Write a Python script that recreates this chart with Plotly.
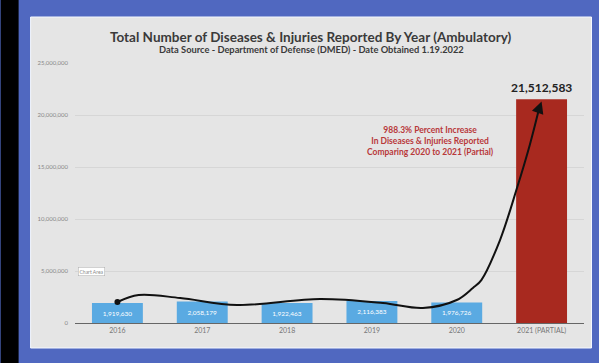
import plotly.graph_objects as go

years = ["2016", "2017", "2018", "2019", "2020", "2021 (PARTIAL)"]
counts = [1919630, 2058179, 1922463, 2116383, 1976726, 21512583]
count_labels = ["1,919,630", "2,058,179", "1,922,463", "2,116,383", "1,976,726", ""]
bar_colors = ["#5aaae2"] * 5 + ["#a8291f"]

# hand-drawn trend curve (category position, value)
curve_x = [0.0, 0.25, 0.74, 1.41, 2.39, 3.13, 3.6, 4.0, 4.19, 4.29, 4.51, 4.71, 4.86, 4.97]
curve_y = [2.02e6, 2.69e6, 2.40e6, 1.73e6, 2.31e6, 1.92e6, 1.44e6, 2.21e6, 3.37e6, 4.13e6,
           7.98e6, 12.98e6, 17.1e6, 20.6e6]

y_ticks = [0, 5000000, 10000000, 15000000, 20000000, 25000000]
y_tick_text = ["0", "5,000,000", "10,000,000", "15,000,000", "20,000,000", "25,000,000"]

FONT = "Lato"
xpos = list(range(len(years)))

fig = go.Figure()
fig.add_trace(go.Bar(
    x=xpos, y=counts, marker=dict(color=bar_colors, line=dict(width=0)),
    text=count_labels, textposition="inside", insidetextanchor="middle",
    textfont=dict(size=6.5, color="white", family=FONT),
    width=0.6, hoverinfo="skip", showlegend=False,
))
fig.add_trace(go.Scatter(
    x=curve_x, y=curve_y, mode="lines", line=dict(color="#111111", width=2, shape="spline", smoothing=1.0),
    hoverinfo="skip", showlegend=False,
))
fig.add_trace(go.Scatter(
    x=curve_x[:1], y=curve_y[:1], mode="markers", marker=dict(color="#111111", size=6),
    hoverinfo="skip", showlegend=False,
))

annotations = [
    dict(x=5, y=21.3e6, ax=curve_x[-1], ay=curve_y[-1], xref="x", yref="y", axref="x", ayref="y",
         text="", showarrow=True, arrowhead=2, arrowsize=1.2, arrowwidth=2, arrowcolor="#111111"),
    dict(x=5, y=counts[5], xref="x", yref="y", text="<b>21,512,583</b>", showarrow=False,
         yanchor="bottom", yshift=2, font=dict(size=12, color="#222222", family=FONT)),
    dict(x=3.69, y=17.5e6, xref="x", yref="y", showarrow=False,
         text="<b>988.3% Percent Increase<br>In Diseases &amp; Injuries Reported<br>Comparing 2020 to 2021 (Partial)</b>",
         align="center", font=dict(size=8.5, color="#b8383a", family=FONT)),
    dict(x=-0.3, y=5e6, xref="x", yref="y", showarrow=False, text="Chart Area",
         font=dict(size=5, color="#888888", family=FONT), bgcolor="white",
         bordercolor="#aaaaaa", borderwidth=0.5, borderpad=1),
    dict(x=(311 - 74.5) / 510, y=(323 - 37) / 260, xref="paper", yref="paper", showarrow=False,
         text="<b>Total Number of Diseases &amp; Injuries Reported By Year (Ambulatory)</b>",
         xanchor="center", yanchor="middle", font=dict(size=13.5, color="#3a3a3a", family=FONT)),
    dict(x=(311 - 74.5) / 510, y=(323 - 50) / 260, xref="paper", yref="paper", showarrow=False,
         text="<b>Data Source - Department of Defense (DMED) - Date Obtained 1.19.2022</b>",
         xanchor="center", yanchor="middle", font=dict(size=9.3, color="#3a3a3a", family=FONT)),
]

fig.update_layout(
    width=599, height=363,
    margin=dict(l=74.5, r=14.5, t=63, b=40),
    paper_bgcolor="#5068c0", plot_bgcolor="rgba(0,0,0,0)",
    bargap=0.4,
    xaxis=dict(range=[-0.5, 5.5], tickvals=xpos, ticktext=years, showgrid=False, zeroline=False,
               showline=True, linecolor="#666666", linewidth=1.2, ticks="",
               tickfont=dict(size=7, color="#777777", family=FONT), fixedrange=True),
    yaxis=dict(range=[0, 25000000], tickvals=y_ticks, ticktext=y_tick_text, showgrid=True,
               gridcolor="#d6d6d6", gridwidth=0.8, zeroline=False, ticks="", ticklabelstandoff=6,
               tickfont=dict(size=6, color="#888888", family=FONT), fixedrange=True),
    annotations=annotations,
    shapes=[
        dict(type="rect", xref="paper", yref="paper", layer="below",
             x0=(30 - 74.5) / 510, x1=(592 - 74.5) / 510,
             y0=(323 - 348) / 260, y1=(323 - 17) / 260,
             line=dict(width=1, color="#f4f8ff"), fillcolor="#e5e5e5"),
        dict(type="rect", xref="paper", yref="paper", layer="below",
             x0=(0 - 74.5) / 510, x1=(18 - 74.5) / 510,
             y0=(323 - 363) / 260, y1=(323 - 0) / 260,
             line=dict(width=0), fillcolor="#000000"),
    ],
)

fig.write_html("out.html", config={"displayModeBar": False},
               post_script="document.body.style.margin='0';document.body.style.overflow='hidden';")
